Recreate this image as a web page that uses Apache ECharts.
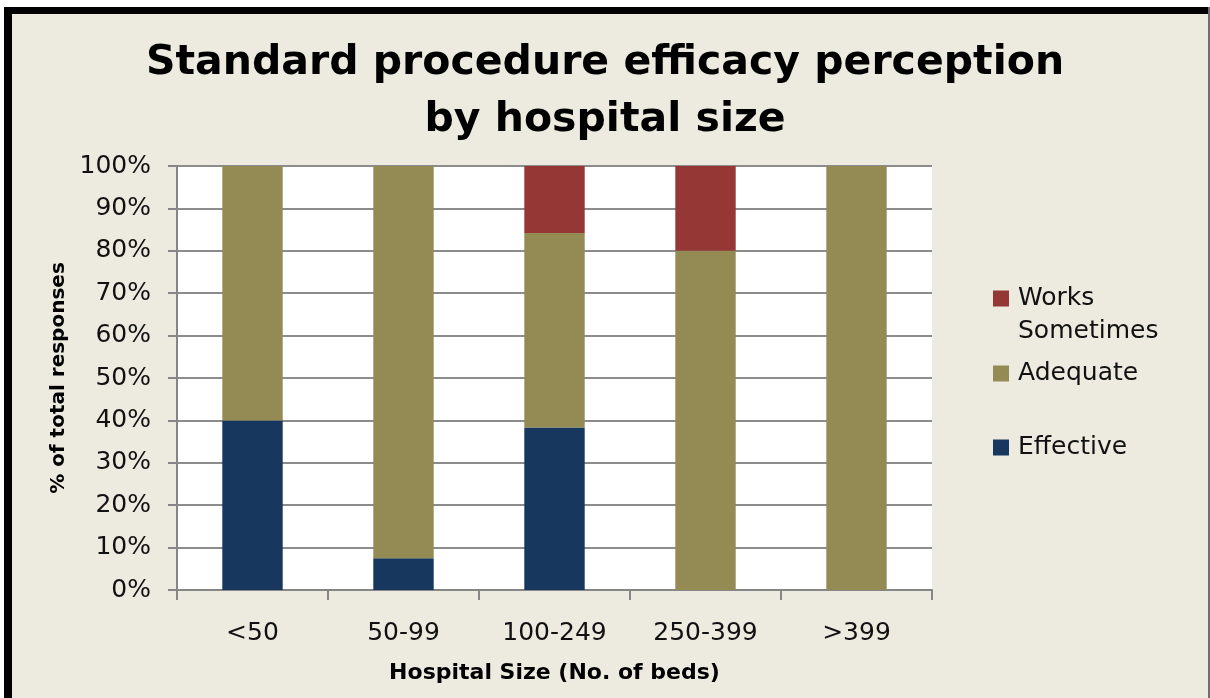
<!DOCTYPE html>
<html>
<head>
<meta charset="utf-8">
<script src="https://cdn.jsdelivr.net/npm/echarts@6/dist/echarts.min.js"></script>
<style>
html,body{margin:0;padding:0;background:#fff;}
#c{width:1210px;height:698px;}
</style>
</head>
<body>
<div id="c"></div>
<script>
const categories = ['<50', '50-99', '100-249', '250-399', '>399'];
const effective = [40, 7.5, 38.3, 0, 0];
const adequate = [60, 92.5, 45.9, 80, 100];
const worksSometimes = [0, 0, 15.8, 20, 0];
const yTicks = [0, 10, 20, 30, 40, 50, 60, 70, 80, 90, 100];

const FONT = 'DejaVu Sans';
const LBL = 25;
function legendItem(name, top, text) {
  return {
    orient: 'vertical', left: 993, top: top, padding: 0,
    itemWidth: 16, itemHeight: 16, icon: 'rect',
    textStyle: {fontFamily: FONT, fontSize: LBL, color: '#111', lineHeight: 33, padding: [0, 0, 0, 4]},
    formatter: function () { return text; },
    data: [name]
  };
}
const chart = echarts.init(document.getElementById('c'), null, {renderer: 'canvas'});
chart.setOption({
  backgroundColor: '#EDEBE0',
  animation: false,
  textStyle: {fontFamily: FONT},
  title: {
    text: 'Standard procedure efficacy perception\nby hospital size',
    left: 'center',
    top: 30,
    textStyle: {fontFamily: FONT, fontWeight: 'bold', fontSize: 41, lineHeight: 57, color: '#000'}
  },
  graphic: [
    {type: 'rect', shape: {x: 0, y: 0, width: 1210, height: 7}, style: {fill: '#fff'}, z: 100},
    {type: 'rect', shape: {x: 0, y: 7, width: 1210, height: 7}, style: {fill: '#000'}, z: 100},
    {type: 'rect', shape: {x: 0, y: 0, width: 4, height: 698}, style: {fill: '#fff'}, z: 100},
    {type: 'rect', shape: {x: 4, y: 7, width: 8, height: 691}, style: {fill: '#000'}, z: 100},
    {type: 'rect', shape: {x: 1208, y: 7, width: 2, height: 691}, style: {fill: '#6e6e6e'}, z: 100}
  ],
  legend: [
    legendItem('Works Sometimes', 249, '\u00a0\nWorks\nSometimes'),
    legendItem('Adequate', 357, 'Adequate'),
    legendItem('Effective', 431, 'Effective')
  ],
  grid: {
    left: 177, top: 166, right: 278, bottom: 108,
    show: true, backgroundColor: '#fff', borderWidth: 0
  },
  xAxis: {
    type: 'category',
    data: categories,
    name: 'Hospital Size (No. of beds)',
    nameLocation: 'middle',
    nameGap: 72,
    nameTextStyle: {fontFamily: FONT, fontWeight: 'bold', fontSize: 22, color: '#000'},
    axisLine: {lineStyle: {color: '#868686', width: 2}},
    axisTick: {show: true, alignWithLabel: false, length: 10, lineStyle: {color: '#868686', width: 2}},
    axisLabel: {fontFamily: FONT, fontSize: LBL, color: '#111', margin: 31}
  },
  yAxis: {
    type: 'value',
    min: 0, max: 100, interval: 10,
    name: '% of total responses',
    nameLocation: 'middle',
    nameGap: 102,
    nameTextStyle: {fontFamily: FONT, fontWeight: 'bold', fontSize: 20, color: '#000'},
    axisLine: {show: true, lineStyle: {color: '#868686', width: 2}},
    axisTick: {show: true, length: 9, lineStyle: {color: '#868686', width: 2}},
    axisLabel: {fontFamily: FONT, fontSize: LBL, color: '#111', margin: 26,
      formatter: function (v) { return yTicks.indexOf(v) >= 0 ? v + '%' : ''; }},
    splitLine: {show: true, lineStyle: {color: '#8c8c8c', width: 2}}
  },
  series: [
    {name: 'Effective', type: 'bar', stack: 's', barWidth: '40%', data: effective,
      itemStyle: {color: '#17375E'}},
    {name: 'Adequate', type: 'bar', stack: 's', barWidth: '40%', data: adequate,
      itemStyle: {color: '#948A54'}},
    {name: 'Works Sometimes', type: 'bar', stack: 's', barWidth: '40%', data: worksSometimes,
      itemStyle: {color: '#953735'}}
  ]
});
</script>
</body>
</html>
